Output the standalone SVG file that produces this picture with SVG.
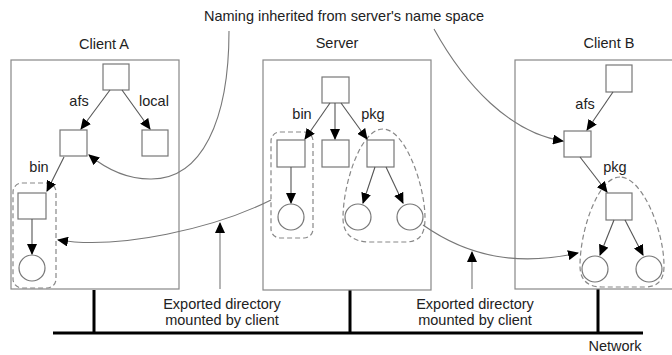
<svg xmlns="http://www.w3.org/2000/svg" width="672" height="355" viewBox="0 0 672 355">
<defs>
<marker id="ah" markerWidth="11" markerHeight="10" refX="10" refY="5" orient="auto" markerUnits="userSpaceOnUse">
<path d="M0,0 L11,5 L0,10 Z" fill="#000"/>
</marker>
<style>
.box{fill:#fff;stroke:#888;stroke-width:1.2}
.sq{fill:#fff;stroke:#777;stroke-width:1.2}
.dash{fill:none;stroke:#888;stroke-width:1.2;stroke-dasharray:5,3}
.edge{fill:none;stroke:#555;stroke-width:1.1;marker-end:url(#ah)}
.curve{fill:none;stroke:#777;stroke-width:1.1}
.net{fill:none;stroke:#000;stroke-width:3}
text{font-family:"Liberation Sans",Arial,sans-serif;font-size:14.5px;fill:#222;text-anchor:middle}
</style>
</defs>
<rect width="672" height="355" fill="#fff"/>

<g id="network">
<path class="net" d="M53,333 H643 M94,290 V333 M350,290 V333 M598,289 V333"/>
<text x="615" y="351">Network</text>
</g>

<g id="clientA">
<rect class="box" x="11" y="60" width="168" height="229"/>
<text x="104" y="49">Client A</text>
<rect class="sq" x="103" y="64" width="26" height="26"/>
<rect class="sq" x="60" y="130" width="27" height="26"/>
<rect class="sq" x="142" y="130" width="26" height="26"/>
<rect class="sq" x="18" y="193" width="28" height="26"/>
<circle class="sq" cx="32" cy="268" r="13"/>
<rect class="dash" x="13" y="183" width="43" height="105" rx="9"/>
<text x="79" y="106">afs</text>
<text x="154" y="106">local</text>
<text x="39" y="172">bin</text>
</g>

<g id="server">
<rect class="box" x="263" y="60" width="168" height="230"/>
<text x="337" y="48">Server</text>
<rect class="sq" x="322" y="77" width="27" height="26"/>
<rect class="sq" x="277" y="140" width="28" height="27"/>
<rect class="sq" x="322" y="140" width="27" height="27"/>
<rect class="sq" x="367" y="140" width="27" height="27"/>
<circle class="sq" cx="291" cy="217" r="13"/>
<circle class="sq" cx="358" cy="217" r="13"/>
<circle class="sq" cx="410" cy="217" r="13"/>
<rect class="dash" x="271" y="132" width="42" height="106" rx="9"/>
<path class="dash" d="M383,129 C360,129 343,185 343,218 C343,236 355,242 370,242 L405,242 C420,242 425,234 425,218 C425,185 405,129 383,129 Z"/>
<text x="302" y="119">bin</text>
<text x="373" y="119">pkg</text>
</g>

<g id="clientB">
<rect class="box" x="515" y="60" width="160" height="229"/>
<text x="609" y="48">Client B</text>
<rect class="sq" x="606" y="65" width="26" height="27"/>
<rect class="sq" x="564" y="131" width="27" height="26"/>
<rect class="sq" x="606" y="193" width="26" height="27"/>
<circle class="sq" cx="595" cy="269" r="13"/>
<circle class="sq" cx="649" cy="269" r="13"/>
<path class="dash" d="M620,177 C598,177 580,230 580,266 C580,282 590,287 602,287 L645,287 C658,287 664,280 664,266 C664,230 642,177 620,177 Z"/>
<text x="585" y="109">afs</text>
<text x="615" y="172">pkg</text>
</g>

<g id="labels">
<text x="344" y="21">Naming inherited from server's name space</text>
<text x="222" y="309">Exported directory</text>
<text x="222" y="325">mounted by client</text>
<text x="475" y="309">Exported directory</text>
<text x="475" y="325">mounted by client</text>
</g>

<g id="connectors">
<path class="edge" d="M110,90 L81,129"/>
<path class="edge" d="M122,90 L150,129"/>
<path class="edge" d="M64,157 L47,191"/>
<path class="edge" d="M32,219 L32,254"/>
<path class="edge" d="M330,103 L305,139"/>
<path class="edge" d="M335,103 L335,139"/>
<path class="edge" d="M341,103 L367,139"/>
<path class="edge" d="M291,167 L291,203"/>
<path class="edge" d="M375,167 L363,203"/>
<path class="edge" d="M386,167 L403,203"/>
<path class="edge" d="M613,92 L587,130"/>
<path class="edge" d="M580,157 L607,192"/>
<path class="edge" d="M614,220 L600,255"/>
<path class="edge" d="M625,220 L643,255"/>
<path class="curve" d="M229,31 C229,120 202,180 150,179 C126,179 105,168 89,155" marker-end="url(#ah)"/>
<path class="curve" d="M434,29 C465,85 510,133 563,141" marker-end="url(#ah)"/>
<path class="curve" d="M271,200 C215,228 120,250 58,240" marker-end="url(#ah)"/>
<path class="curve" d="M423,225 C470,258 520,266 578,253" marker-end="url(#ah)"/>
<path class="curve" d="M220,289 L220,223" marker-end="url(#ah)"/>
<path class="curve" d="M472,289 L472,252" marker-end="url(#ah)"/>
</g>
</svg>
